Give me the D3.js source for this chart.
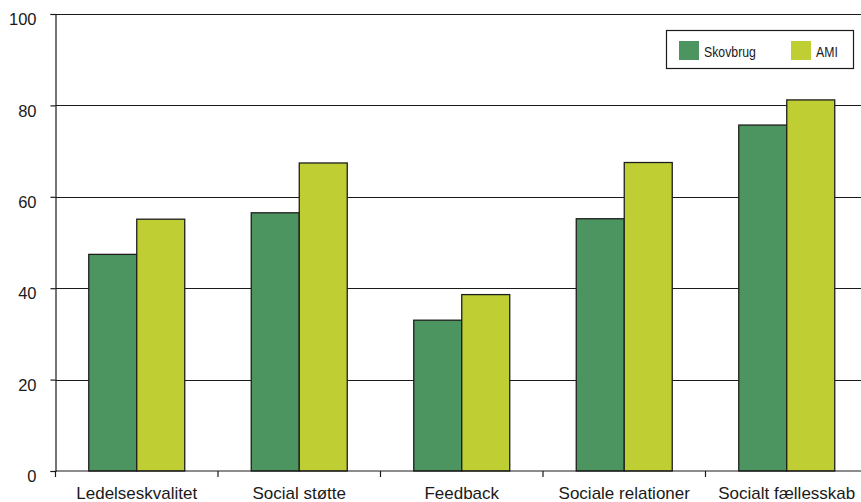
<!DOCTYPE html>
<html>
<head>
<meta charset="utf-8">
<script src="https://cdn.jsdelivr.net/npm/d3@7/dist/d3.min.js"></script>
<style>
  html, body { margin: 0; padding: 0; background: #fff; }
  svg { display: block; }
  text { font-family: "Liberation Sans", Arial, sans-serif; fill: #1a1a1a; }
</style>
</head>
<body>
<script>
// Scores per area, two groups compared
const categories = ["Ledelseskvalitet", "Social støtte", "Feedback", "Sociale relationer", "Socialt fællesskab"];
const seriesNames = ["Skovbrug", "AMI"];
const skovbrug = [47.4, 56.5, 33.0, 55.2, 75.7];
const ami = [55.1, 67.4, 38.6, 67.5, 81.2];
const yTicks = [0, 20, 40, 60, 80, 100];
const colors = ["#4c9560", "#bfcf33"];

const W = 861, H = 502;
const plotLeft = 55.5, plotRight = 868, plotTop = 14, plotBottom = 471;

const svg = d3.select("body").append("svg").attr("width", W).attr("height", H);

const y = d3.scaleLinear().domain([0, 100]).range([plotBottom, plotTop]);
const x0 = d3.scaleBand().domain(categories).range([plotLeft, plotRight]).padding(0);
const x1 = d3.scaleBand().domain(seriesNames).range([0, x0.step()]).paddingInner(0).paddingOuter(0.693);
const color = d3.scaleOrdinal().domain(seriesNames).range(colors);

// horizontal gridlines
svg.append("g").selectAll("line").data(yTicks.filter(d => d > 0)).join("line")
  .attr("x1", plotLeft).attr("x2", W)
  .attr("y1", d => Math.round(y(d)) + 0.5).attr("y2", d => Math.round(y(d)) + 0.5)
  .attr("stroke", "#1a1a1a").attr("stroke-width", 1.2);

// bars
const rows = categories.map((c, i) => ({ cat: c, values: [skovbrug[i], ami[i]] }));
const groups = svg.append("g").selectAll("g").data(rows).join("g")
  .attr("transform", d => `translate(${x0(d.cat)},0)`);
groups.selectAll("rect").data(d => seriesNames.map((s, j) => ({ s, v: d.values[j] }))).join("rect")
  .attr("x", d => x1(d.s))
  .attr("width", x1.bandwidth())
  .attr("y", d => y(d.v))
  .attr("height", d => y(0) - y(d.v))
  .attr("fill", d => color(d.s))
  .attr("stroke", "#1e1e1e").attr("stroke-width", 1.3);

// y axis
const yAxis = svg.append("g").attr("transform", `translate(${plotLeft},0)`)
  .call(d3.axisLeft(y).tickValues(yTicks).tickSize(5).tickPadding(14));
yAxis.select(".domain").attr("stroke", "#1a1a1a").attr("stroke-width", 1.2);
yAxis.selectAll(".tick line").attr("stroke", "#1a1a1a").attr("stroke-width", 1.2);
yAxis.selectAll("text").attr("font-size", 16.5).attr("dy", "0.65em")
  .attr("font-family", "Liberation Sans, Arial, sans-serif").attr("fill", "#1a1a1a");

// x axis: ticks at category boundaries
const xg = svg.append("g");
xg.append("line").attr("x1", plotLeft).attr("x2", W).attr("y1", plotBottom).attr("y2", plotBottom)
  .attr("stroke", "#1a1a1a").attr("stroke-width", 1.2);
xg.selectAll("line.tk").data(categories).join("line").attr("class", "tk")
  .attr("x1", d => x0(d)).attr("x2", d => x0(d))
  .attr("y1", plotBottom).attr("y2", plotBottom + 6)
  .attr("stroke", "#1a1a1a").attr("stroke-width", 1.2);
xg.selectAll("text").data(categories).join("text")
  .attr("x", d => x0(d) + x0.bandwidth() / 2)
  .attr("y", 498.5)
  .attr("text-anchor", "middle")
  .attr("font-size", 17)
  .text(d => d);

// legend
const lg = svg.append("g");
lg.append("rect").attr("x", 666.5).attr("y", 30.5).attr("width", 187).attr("height", 38)
  .attr("fill", "#fff").attr("stroke", "#1a1a1a").attr("stroke-width", 1.2);
const legendX = [679, 791];
seriesNames.forEach((s, i) => {
  lg.append("rect").attr("x", legendX[i]).attr("y", 41).attr("width", 20).attr("height", 19)
    .attr("fill", color(s));
  lg.append("text")
    .attr("transform", `translate(${legendX[i] + 25},56.5) scale(0.82,1)`)
    .attr("font-size", 15).text(s);
});
</script>
</body>
</html>
